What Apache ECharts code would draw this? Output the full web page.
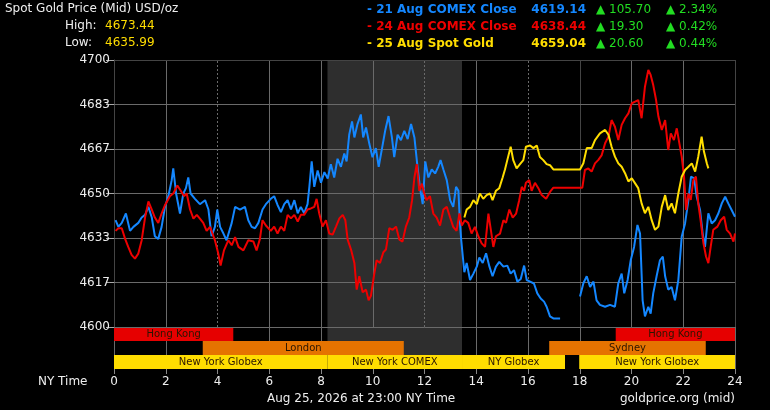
<!DOCTYPE html>
<html>
<head>
<meta charset="utf-8">
<script src="https://cdn.jsdelivr.net/npm/echarts@6/dist/echarts.min.js"></script>
<style>
  html, body { margin: 0; background: #000; }
  #chart { width: 770px; height: 410px; }
</style>
</head>
<body>
<div id="chart"></div>
<script>
// [hour of NY day, price]
const comex21 = [
  [0.06,4640],[0.17,4637.5],[0.30,4639],[0.46,4642.5],[0.62,4636],[0.75,4637.5],[0.94,4639],[1.07,4641],
  [1.20,4642],[1.33,4645],[1.46,4641],[1.58,4634],[1.71,4633],[1.84,4637.5],[1.97,4645],[2.10,4649],
  [2.23,4655],[2.29,4659.4],[2.40,4650],[2.55,4642.5],[2.68,4650],[2.78,4652],[2.87,4656],[2.96,4650],
  [3.13,4648],[3.32,4646],[3.52,4647.5],[3.65,4644],[3.77,4634],[3.90,4637.5],[3.99,4644],[4.10,4637.5],
  [4.23,4635],[4.35,4632.5],[4.55,4639],[4.68,4645],[4.87,4644],[5.06,4645],[5.19,4640],[5.32,4637.5],
  [5.45,4637],[5.58,4639],[5.74,4644],[5.87,4646],[6.06,4648],[6.19,4649],[6.32,4645.7],[6.45,4643],
  [6.58,4646],[6.71,4647.5],[6.84,4644],[6.97,4647.5],[7.10,4642.6],[7.22,4645],[7.35,4642.6],[7.48,4646],
  [7.55,4652.5],[7.64,4662],[7.74,4652.5],[7.87,4658.6],[8.00,4654],[8.13,4658],[8.26,4655.6],[8.38,4661],
  [8.51,4656],[8.64,4663],[8.77,4660],[8.90,4665],[8.99,4662],[9.09,4672],[9.20,4677],[9.29,4671],
  [9.41,4676],[9.54,4679.6],[9.63,4671],[9.74,4674.7],[9.87,4668.5],[9.99,4663.6],[10.12,4667],[10.23,4660],
  [10.36,4667],[10.48,4673.5],[10.61,4679],[10.74,4671],[10.83,4663.6],[10.96,4672],[11.09,4670],[11.22,4673.5],
  [11.35,4670.4],[11.48,4676],[11.61,4671],[11.73,4660],[11.82,4652.5],[11.93,4646],[12.03,4662],[12.15,4656],
  [12.28,4659],[12.41,4657.5],[12.53,4660],[12.62,4662.5],[12.73,4659],[12.86,4655],[12.99,4647.5],[13.11,4645],
  [13.22,4652.5],[13.31,4651],[13.37,4639],[13.42,4632.5],[13.54,4620.5],[13.63,4624],[13.76,4617.6],[13.89,4620],
  [14.02,4622.6],[14.12,4626],[14.25,4624],[14.38,4627.6],[14.51,4622.6],[14.63,4619],[14.76,4622.6],[14.89,4624.4],
  [15.05,4622.6],[15.20,4623],[15.33,4620],[15.46,4621.3],[15.59,4617],[15.72,4618],[15.85,4623],[15.95,4617.6],
  [16.08,4617],[16.23,4616.3],[16.36,4612.6],[16.49,4610.7],[16.62,4609.5],[16.72,4607.6],[16.85,4604],[16.98,4603.2],
  [17.24,4603.2],[17.6,null],
  [18.01,4611.4],[18.14,4616.4],[18.27,4619],[18.40,4615],[18.53,4617],[18.65,4610],[18.78,4608.3],[18.98,4607.6],
  [19.17,4608.3],[19.36,4607.6],[19.49,4616.4],[19.62,4620],[19.72,4612.6],[19.85,4617.6],[19.97,4625],[20.10,4630],
  [20.23,4638.2],[20.33,4635],[20.43,4610],[20.52,4604],[20.65,4607.6],[20.74,4605],[20.84,4612.6],[20.97,4619],
  [21.10,4625],[21.21,4626.4],[21.30,4619],[21.42,4614],[21.55,4615],[21.68,4610],[21.81,4617.6],[21.94,4633.8],
  [22.07,4638.8],[22.20,4647.6],[22.30,4656.3],[22.42,4655.7],[22.52,4648.8],[22.65,4643.8],[22.75,4635],[22.84,4630],
  [22.97,4642.6],[23.10,4638.8],[23.23,4640],[23.36,4642.6],[23.49,4646.3],[23.62,4648.8],[23.74,4646.3],[23.87,4643.8],
  [24.00,4641.3]
];

const comex24 = [
  [0.06,4636],[0.17,4637],[0.30,4637],[0.43,4633],[0.55,4630],[0.68,4627],[0.81,4625.6],[0.94,4627.5],
  [1.07,4632.5],[1.20,4641],[1.33,4647],[1.46,4644],[1.58,4641],[1.71,4639],[1.84,4642.5],[1.97,4645.6],
  [2.16,4649],[2.29,4650],[2.45,4653],[2.58,4651],[2.71,4649],[2.81,4650],[2.94,4644],[3.07,4640.6],
  [3.20,4642],[3.32,4640.6],[3.45,4639],[3.58,4636],[3.71,4637.5],[3.90,4632.5],[4.03,4627.5],[4.12,4623],
  [4.25,4628.7],[4.42,4632.5],[4.55,4630.6],[4.68,4633.7],[4.81,4630],[5.00,4628.7],[5.19,4632.5],[5.39,4632],
  [5.51,4628.7],[5.64,4633],[5.74,4640],[5.87,4638],[6.06,4636],[6.19,4637.6],[6.32,4635],[6.45,4637.6],
  [6.58,4636],[6.71,4642],[6.84,4640.7],[6.97,4642],[7.10,4639.5],[7.22,4642],[7.35,4642],[7.48,4644],
  [7.61,4644.4],[7.74,4645],[7.83,4648],[7.93,4642.6],[8.06,4637.6],[8.19,4640],[8.32,4635],[8.45,4634.6],
  [8.58,4637.6],[8.71,4640.7],[8.84,4642],[8.94,4640],[9.03,4632.7],[9.16,4629],[9.29,4624],[9.38,4614],
  [9.48,4619],[9.61,4613],[9.74,4614],[9.84,4610],[9.93,4611.7],[10.06,4620],[10.15,4625],[10.28,4624],
  [10.41,4628],[10.51,4629],[10.64,4637],[10.77,4636.4],[10.90,4637.6],[11.03,4632.7],[11.15,4632],[11.28,4637.6],
  [11.41,4641],[11.52,4647.5],[11.61,4656],[11.70,4661],[11.80,4651],[11.90,4653.7],[11.99,4650],[12.08,4647.5],
  [12.21,4649],[12.34,4642.5],[12.47,4641],[12.60,4638],[12.73,4644],[12.86,4645],[12.99,4641],[13.11,4637.5],
  [13.24,4636],[13.35,4642.5],[13.44,4638],[13.56,4640],[13.69,4639],[13.82,4635],[13.95,4637.5],[14.08,4634],
  [14.21,4631.3],[14.34,4630],[14.47,4642.5],[14.57,4636],[14.66,4630],[14.76,4634],[14.92,4635],[15.05,4640],
  [15.15,4639],[15.28,4644],[15.41,4641],[15.54,4642.5],[15.66,4647.5],[15.76,4652.5],[15.85,4651],[15.92,4654],
  [16.05,4655],[16.14,4651],[16.27,4654],[16.40,4652],[16.53,4649.4],[16.70,4648],[16.85,4650.6],[16.98,4652.2],
  [18.10,4652.2],[18.20,4658.8],[18.33,4659.4],[18.46,4658.2],[18.59,4661.3],[18.72,4662.6],[18.85,4664.4],[18.98,4668.8],
  [19.11,4671.3],[19.23,4677.5],[19.36,4675],[19.49,4670],[19.62,4675.7],[19.75,4678.2],[19.88,4680],[20.01,4683.8],
  [20.14,4684.4],[20.26,4685],[20.39,4678.2],[20.52,4690],[20.65,4696.3],[20.74,4694.4],[20.84,4690.6],[20.95,4685],
  [21.04,4678.8],[21.17,4673.8],[21.30,4677.5],[21.42,4666.3],[21.52,4672.5],[21.64,4670],[21.75,4674.4],[21.85,4668.8],
  [21.94,4663.8],[22.03,4656.3],[22.11,4643.8],[22.20,4650],[22.29,4647.6],[22.39,4655],[22.49,4656.3],[22.58,4646.3],
  [22.67,4640],[22.78,4631.4],[22.88,4626.4],[22.97,4623.9],[23.06,4630],[23.16,4636.4],[23.32,4637.6],[23.45,4640],
  [23.58,4641.3],[23.68,4636.4],[23.81,4635],[23.94,4632],[24.00,4635]
];

const spot25 = [
  [13.54,4641],[13.63,4644],[13.76,4645],[13.89,4647.5],[14.02,4646],[14.14,4650],[14.27,4648],[14.40,4649.4],
  [14.53,4650],[14.63,4647.5],[14.76,4651],[14.89,4652],[15.02,4656],[15.11,4659],[15.20,4662.5],[15.33,4667.5],
  [15.43,4662.5],[15.56,4659.4],[15.69,4661],[15.82,4662.5],[15.92,4667.5],[16.08,4668],[16.21,4667],[16.34,4668],
  [16.46,4663.7],[16.59,4662.5],[16.72,4661],[16.85,4660.6],[16.98,4659],[18.01,4659],[18.14,4661.3],[18.27,4667],
  [18.46,4667],[18.59,4670],[18.78,4672.5],[18.98,4673.8],[19.11,4672],[19.23,4667.5],[19.36,4663.8],[19.49,4661.3],
  [19.62,4660],[19.75,4657.6],[19.88,4654.5],[20.01,4655.7],[20.14,4653.8],[20.26,4652],[20.39,4646.3],[20.52,4642.6],
  [20.65,4645],[20.78,4640],[20.91,4636.4],[21.04,4637.6],[21.17,4645],[21.30,4649.4],[21.42,4643.8],[21.55,4646.3],
  [21.68,4642.6],[21.81,4650],[21.94,4656.3],[22.07,4658.8],[22.20,4660],[22.33,4661.3],[22.46,4658.2],[22.58,4663.8],
  [22.71,4671.3],[22.80,4665.7],[22.91,4661.3],[22.97,4659.4]
];

// trading sessions: [start hour, end hour, row (0 NY, 1 London/Sydney, 2 HK), name]
const sessions = [
  [0, 4.61, 2, 'Hong Kong'],
  [19.39, 24, 2, 'Hong Kong'],
  [3.43, 11.2, 1, 'London'],
  [16.82, 22.87, 1, 'Sydney'],
  [0, 8.25, 0, 'New York Globex'],
  [8.25, 13.45, 0, 'New York COMEX'],
  [13.45, 17.43, 0, 'NY Globex'],
  [17.98, 24, 0, 'New York Globex']
];
const comexHours = [8.25, 13.45];

const legendNames = ['21 Aug COMEX Close', '24 Aug COMEX Close', '25 Aug Spot Gold'];
const legendPrices = ['4619.14', '4638.44', '4659.04'];
const legendChanges = ['105.70', '19.30', '20.60'];
const legendPcts = ['2.34%', '0.42%', '0.44%'];
const dayHigh = '4673.44';
const dayLow = '4635.99';

const lineColors = ['#1487ff', '#ee0000', '#ffdd00'];
const rowColors = ['#ffdd00', '#e57300', '#e60000'];
const FONT = 'DejaVu Sans';
const hourTicks = [];
for (let h = 0; h <= 24; h += 2) hourTicks.push(h);
const dashedHours = [4, 12, 16];
const darkHours = [0, 18, 24];
const priceTicks = [];
for (let i = 0; i <= 6; i++) priceTicks.push(4600 + i * 100 / 6);

const chart = echarts.init(document.getElementById('chart'));

function txt(x, y, text, fill, size, opts) {
  return {
    type: 'text', x: x, y: y, silent: true,
    style: Object.assign({ text: text, fill: fill, font: size + 'px "' + FONT + '"', verticalAlign: 'middle' }, opts || {})
  };
}

const graphics = [
  txt(5, 9, 'Spot Gold Price (Mid) USD/oz', '#eeeeee', 12),
  txt(65, 26, 'High:', '#eeeeee', 12),
  txt(105, 26, dayHigh, '#ffdd00', 12),
  txt(65, 43, 'Low:', '#eeeeee', 12),
  txt(105, 43, dayLow, '#ffdd00', 12),
  txt(38, 382, 'NY Time', '#eeeeee', 12),
  txt(267, 399, 'Aug 25, 2026 at 23:00 NY Time', '#eeeeee', 12),
  txt(735, 399, 'goldprice.org (mid)', '#eeeeee', 12, { align: 'right' })
];
legendNames.forEach((name, i) => {
  const y = 10 + i * 16.7;
  const f = 'bold 12px "' + FONT + '"';
  graphics.push(txt(367, y, '- ' + name, lineColors[i], 12, { font: f }));
  graphics.push(txt(586, y, legendPrices[i], lineColors[i], 12, { font: f, align: 'right' }));
  graphics.push(txt(596, y, '\u25B2 ' + legendChanges[i], '#22dd22', 12));
  graphics.push(txt(666, y, '\u25B2 ' + legendPcts[i], '#22dd22', 12));
});

const gridLines = hourTicks.map(h => ({
  xAxis: h,
  lineStyle: {
    type: dashedHours.includes(h) ? [2, 2] : 'solid',
    color: darkHours.includes(h) ? '#444' : '#6a6a6a'
  }
})).concat(priceTicks.map((v, i) => ({
  yAxis: v,
  lineStyle: { color: i === 6 ? '#444' : '#6a6a6a' }
})));

chart.setOption({
  backgroundColor: '#000',
  animation: false,
  graphic: graphics,
  grid: [
    { left: 114, right: 35, top: 60, height: 267 },
    { left: 114, right: 35, top: 327, height: 42 }
  ],
  xAxis: [
    {
      gridIndex: 0, type: 'value', min: 0, max: 24, interval: 2,
      axisLine: { show: false }, axisTick: { show: false }, axisLabel: { show: false },
      splitLine: { show: false }
    },
    {
      gridIndex: 1, type: 'value', min: 0, max: 24, interval: 2,
      axisLine: { show: false },
      axisTick: { show: true, length: 5, lineStyle: { color: '#888' } },
      axisLabel: { color: '#eeeeee', fontFamily: FONT, fontSize: 12, margin: 7 },
      splitLine: { show: true, lineStyle: { color: '#6a6a6a' } }
    }
  ],
  yAxis: [
    {
      gridIndex: 0, type: 'value', min: 4600, max: 4700, interval: 100 / 6,
      axisLine: { show: true, lineStyle: { color: '#555' } },
      axisTick: { show: true, length: 8, lineStyle: { color: '#aaa' } },
      axisLabel: { color: '#eeeeee', fontFamily: FONT, fontSize: 12, margin: 4, formatter: v => Math.round(v) },
      splitLine: { show: false }
    },
    {
      gridIndex: 1, type: 'category', data: ['NY', 'London', 'HK'],
      axisLine: { show: false }, axisTick: { show: false }, axisLabel: { show: false }
    }
  ],
  series: [
    {
      type: 'line', data: [], xAxisIndex: 0, yAxisIndex: 0, z: 1, silent: true,
      markArea: { silent: true, itemStyle: { color: '#2e2e2e' }, data: [[{ xAxis: comexHours[0] }, { xAxis: comexHours[1] }]] }
    },
    {
      type: 'line', data: [], xAxisIndex: 0, yAxisIndex: 0, z: 2, silent: true,
      markLine: {
        silent: true, symbol: 'none', label: { show: false },
        lineStyle: { color: '#6a6a6a', width: 1, type: 'solid' },
        data: gridLines
      }
    },
    {
      type: 'line', data: [], xAxisIndex: 1, yAxisIndex: 1, z: 1, silent: true,
      markArea: { silent: true, itemStyle: { color: '#2e2e2e' }, data: [[{ xAxis: comexHours[0] }, { xAxis: comexHours[1] }]] }
    },
    {
      type: 'custom', xAxisIndex: 1, yAxisIndex: 1, z: 3, silent: true,
      data: sessions.map(s => [s[0], s[1], s[2]]),
      renderItem: (params, api) => {
        const a = api.coord([api.value(0), api.value(2)]);
        const b = api.coord([api.value(1), api.value(2)]);
        const h = api.size([0, 1])[1];
        return {
          type: 'rect',
          shape: { x: a[0], y: a[1] - h / 2, width: b[0] - a[0], height: h },
          style: { fill: rowColors[api.value(2)] },
          textContent: {
            style: { text: sessions[params.dataIndex][3], fill: '#2a1500', font: '10px "' + FONT + '"' }
          },
          textConfig: { position: 'inside' }
        };
      }
    },
    ...[comex21, comex24, spot25].map((d, i) => ({
      type: 'line', data: d, xAxisIndex: 0, yAxisIndex: 0, z: 5 + i,
      showSymbol: false, connectNulls: false,
      lineStyle: { color: lineColors[i], width: 2 }
    }))
  ]
});
</script>
</body>
</html>
